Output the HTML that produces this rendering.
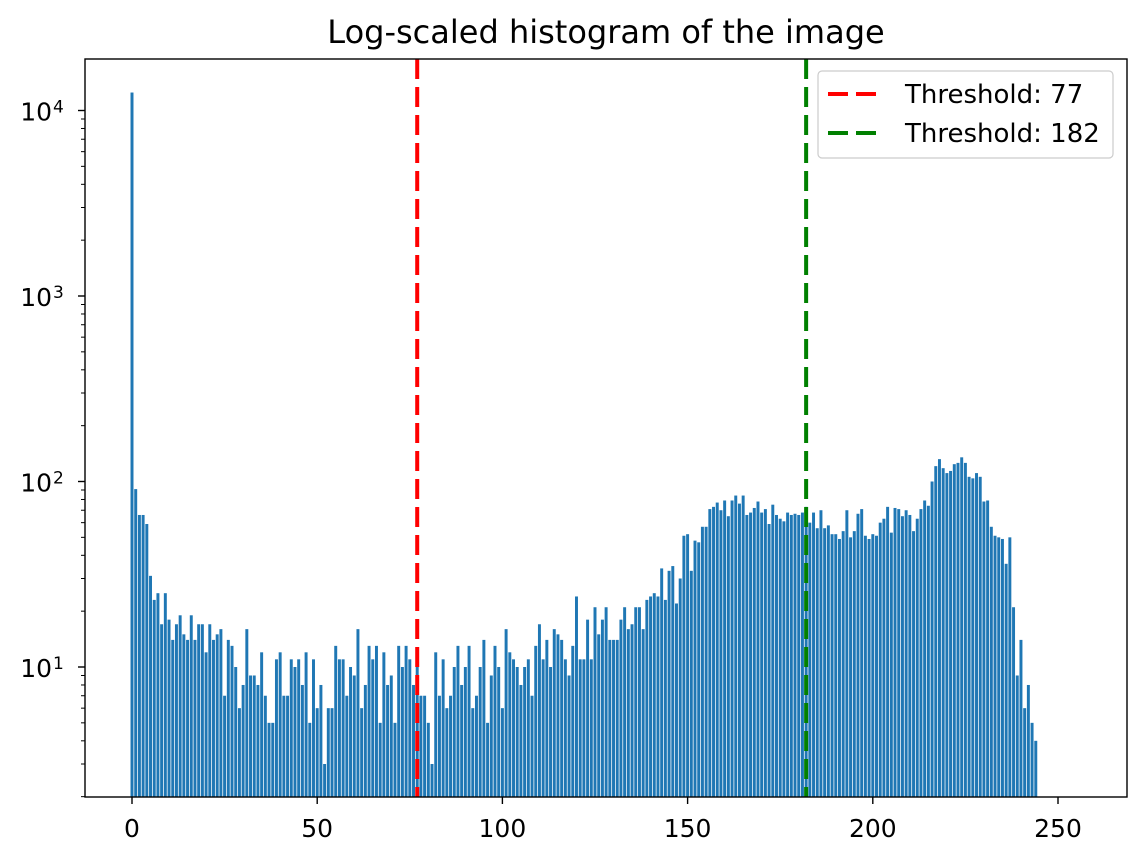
<!DOCTYPE html>
<html><head><meta charset="utf-8"><style>
body{margin:0;background:#fff;}
svg text{font-family:"DejaVu Sans","Liberation Sans",sans-serif;fill:#000;}
</style></head><body>
<svg id="chart" width="1145" height="862" xmlns="http://www.w3.org/2000/svg">
<rect width="1145" height="862" fill="#fff"/>
<text x="606" y="43" font-size="32" text-anchor="middle">Log-scaled histogram of the image</text>
<g id="bars"></g>
<g id="lines"></g>
<rect x="85" y="59" width="1042" height="738" fill="none" stroke="#000" stroke-width="1.4"/>
<g id="ticks"></g>
<g>
<rect x="818" y="71" width="295" height="87" rx="4" fill="#fff" fill-opacity="0.8" stroke="#ccc" stroke-width="1.2"/>
<line x1="828" y1="94" x2="878" y2="94" stroke="red" stroke-width="4" stroke-dasharray="20,8"/>
<text x="905" y="103" font-size="26">Threshold: 77</text>
<line x1="828" y1="133" x2="878" y2="133" stroke="green" stroke-width="4" stroke-dasharray="20,8"/>
<text x="905" y="142" font-size="26">Threshold: 182</text>
</g>
</svg>
<script>
const counts = [12500,91,66,66,59,31,23,25,17,25,18,14,17,19,15,14,19,14,17,17,
12,17,14,15,16,7,14,13,10,6,8,16,9,9,8,12,7,5,5,11,
12,7,7,11,10,11,8,12,5,11,6,8,3,6,6,13,11,11,7,10,
9,16,6,8,13,11,13,5,12,8,9,5,13,10,13,11,8,10,7,7,
5,3,12,7,11,6,7,10,13,8,10,13,6,7,10,14,5,9,13,10,
6,16,12,11,10,8,10,11,7,13,17,11,14,10,16,15,14,11,9,13,
24,11,11,18,11,21,15,18,21,14,14,14,18,21,16,17,21,21,16,23,
24,25,24,34,23,33,35,22,30,51,52,33,48,47,57,57,71,73,77,70,
79,65,79,84,76,84,66,68,72,78,68,71,59,75,66,63,61,68,66,67,
66,68,73,60,68,56,70,56,58,52,52,49,54,70,50,54,67,71,51,49,
52,51,60,63,73,53,72,71,65,70,66,54,63,71,79,74,100,121,132,118,
111,114,124,126,135,126,106,104,111,106,78,79,57,51,50,49,36,50,21,9,
14,6,8,5,4];
const thresholds = [77, 182];
const thresholdColors = ["red", "green"];
const xTicks = [0,50,100,150,200,250];
const yExps = [1,2,3,4];

const NS="http://www.w3.org/2000/svg";
const X0=132, XS=3.704, YB=667, DEC=185.5, BOTTOM=797, TOP=59;
function xs(v){return X0+XS*v;}
function ys(v){return YB-(Math.log10(v)-1)*DEC;}
function mk(tag,attrs,parent){const e=document.createElementNS(NS,tag);for(const k in attrs)e.setAttribute(k,attrs[k]);parent.appendChild(e);return e;}
const bars=document.getElementById('bars');
counts.forEach((c,i)=>{
  const y=Math.max(ys(c),TOP);
  const r=mk('rect',{x:xs(i)-1.48,y:y,width:2.96,height:BOTTOM-y,fill:'#1f77b4'},bars);
  
  
});
const lines=document.getElementById('lines');
thresholds.forEach((t,i)=>{
  const l=mk('line',{x1:xs(t),x2:xs(t),y1:TOP,y2:BOTTOM,stroke:thresholdColors[i],'stroke-width':4,'stroke-dasharray':'20,8'},lines);
  
  
});
const tg=document.getElementById('ticks');
xTicks.forEach(v=>{
  mk('line',{x1:xs(v),x2:xs(v),y1:BOTTOM,y2:BOTTOM+7,stroke:'#000','stroke-width':1.4},tg);
  const t=mk('text',{x:xs(v),y:837,'font-size':25,'text-anchor':'middle'},tg);
  t.textContent=v;
  
  
});
for(let e=0;e<=4;e++){
  for(let m=1;m<10;m++){
    const v=m*Math.pow(10,e);const y=ys(v);
    if(y<TOP||y>BOTTOM)continue;
    mk('line',{x1:85,x2:85-(m===1?7:4),y1:y,y2:y,stroke:'#000','stroke-width':m===1?1.4:1},tg);
  }
}
yExps.forEach(e=>{
  const y=ys(Math.pow(10,e));
  const t=mk('text',{x:52,y:y+10,'font-size':25,'text-anchor':'end'},tg);
  t.textContent='10';
  
  
  const s=mk('text',{x:53,y:y+2,'font-size':17},tg);
  s.textContent=e;
});
</script>
</body></html>
